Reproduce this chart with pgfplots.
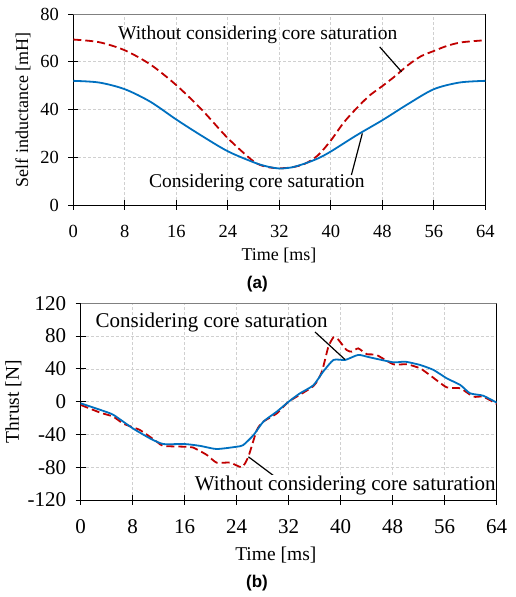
\documentclass[border=0pt]{standalone}
\usepackage{fontspec}
\setmainfont{Liberation Serif}
\newfontfamily\arialfont{Liberation Sans}
\usepackage{pgfplots}
\pgfplotsset{compat=1.18}
\definecolor{myred}{HTML}{C00000}
\definecolor{myblue}{HTML}{0070C0}
\definecolor{gridgray}{HTML}{D0D0D0}
\newcommand{\fs}[1]{\rmfamily\fontsize{#1}{#1}\selectfont}
\pgfplotsset{
  mystyle/.style={
    scale only axis,
    /pgf/number format/assume math mode=true,
    axis line style={black, line width=0.9pt},
    tick style={black, line width=0.9pt},
    tick align=center,
    major tick length=10pt,
    xtick pos=lower, ytick pos=left,
    xmin=0, xmax=64,
    xtick={0,8,...,64},
    grid=major,
    major grid style={gridgray, line width=0.6pt, dash pattern=on 3pt off 2pt},
    clip=true,
  },
  redline/.style={myred, line width=1.8pt, dash pattern=on 8pt off 4pt},
  blueline/.style={myblue, line width=1.8pt},
}
\begin{document}
\begin{tikzpicture}
\useasboundingbox (0pt,0pt) rectangle (516pt,597pt);
% ---------- (a) ----------
\begin{axis}[mystyle,
  at={(73.3pt,392pt)}, anchor=south west,
  width=412pt, height=191pt,
  ymin=0, ymax=80, ytick={0,20,...,80},
  tick label style={font=\fs{18.5}},
  xticklabel style={yshift=-12pt},
  yticklabel style={xshift=-6pt},
]
\addplot[redline, smooth] coordinates {
(0,69.3) (4,68.2) (8,64.8) (12,58.8) (16,50.2) (20,39.8) (24,28) (28,18.3) (30,16) (32,15.4)
(34,15.8) (36,17.3) (38,20.8) (40,27) (42,34.5) (44,40.5) (46,45.8) (48,49.8) (50,54)
(52,58.6) (54,62.3) (56,64.5) (58,66.6) (60,68) (62,68.6) (64,69)};
\addplot[blueline, smooth] coordinates {
(0,52) (4,51.3) (8,48.5) (12,43.2) (16,35.8) (20,28.9) (24,22.5) (28,17.9) (30,16.2) (32,15.3)
(34,15.8) (36,17.4) (38,19.5) (40,22.4) (44,29.2) (48,35.5) (52,42.3) (56,48.5) (60,51.3) (64,52)};
\draw[gray, line width=1pt] (rel axis cs:0,1) -- (rel axis cs:1,1);
\draw[black, line width=1.2pt] (axis cs:47.6,66.2) -- (axis cs:51,55.8);
\draw[black, line width=1.2pt] (axis cs:43.2,12.55) -- (axis cs:44.9,30);
\node[font=\fs{19.5}, inner sep=0pt] at (axis cs:28.65,71.1) {Without considering core saturation};
\node[font=\fs{19.5}, inner sep=0pt] at (axis cs:28.5,9.1) {Considering core saturation};
\end{axis}
\node[font=\fs{18}, rotate=90, inner sep=0pt] at (23pt,487pt) {Self inductance [mH]};
\node[font=\fs{18}, inner sep=0pt] at (279pt,342pt) {Time [ms]};
\node[font=\arialfont\bfseries\fontsize{17}{20}\selectfont, inner sep=0pt] at (257.3pt,313pt) {(a)};
% ---------- (b) ----------
\begin{axis}[mystyle,
  at={(80.7pt,97pt)}, anchor=south west,
  width=416pt, height=196.7pt,
  ymin=-120, ymax=120, ytick={-120,-80,...,120},
  tick label style={font=\fs{21}},
  xticklabel style={yshift=-11pt},
  yticklabel style={xshift=-6pt},
]
\addplot[redline, smooth, tension=0.35] coordinates {
(0,-4) (3,-13.4) (5,-18.3) (6.6,-27) (9.1,-34.6) (11.7,-48.8) (12.7,-54) (16,-55) (17.3,-56)
(19.4,-65) (20.9,-74.4) (23,-74.4) (24.8,-80) (25.8,-67) (27.1,-34.6) (28.1,-24.4) (30.2,-14.2)
(32,0) (35.8,19) (37.1,36.6) (38.1,67) (38.9,78.5) (39.6,76) (40.9,63) (41.7,61) (42.7,65)
(44,58) (45.5,57) (48.1,45.6) (50.2,45.6) (52.2,40.7) (53.7,32.5) (56.3,17.5) (58.4,16.3)
(60.4,6.1) (61.9,6.1) (64,-2.8)};
\addplot[blueline, smooth, tension=0.35] coordinates {
(0,-2) (3,-10) (5,-16) (8,-32.5) (10.7,-45) (12.7,-51.7) (16,-51.7) (18.4,-54) (20.9,-57.8)
(24,-55) (25,-53) (26.6,-40.7) (28.1,-24.4) (30.2,-12) (32,0) (33.7,10) (35.8,20) (37.3,36.6)
(38.9,50.9) (40.7,50.9) (42.7,57) (44.5,54) (48.1,48) (49.9,48.8) (52.2,44.8) (54.3,38.6)
(56.3,28.5) (58.4,20.3) (59.9,10.2) (61.9,7.3) (64,-1.2)};
\draw[gray, line width=1pt] (rel axis cs:0,1) -- (rel axis cs:1,1);
\draw[black, line width=1.2pt] (axis cs:36.05,85) -- (axis cs:40.66,51.4);
\draw[black, line width=1.2pt] (axis cs:25.8,-67.3) -- (axis cs:29.9,-91.6);
\node[font=\fs{21}, inner sep=0pt] at (axis cs:20.15,96) {Considering core saturation};
\node[font=\fs{21}, inner sep=0pt, fill=white] at (axis cs:40.7,-101.7) {Without considering core saturation};
\end{axis}
\node[font=\fs{19.5}, rotate=90, inner sep=0pt] at (13.3pt,195.3pt) {Thrust [N]};
\node[font=\fs{19.5}, inner sep=0pt] at (275.8pt,42pt) {Time [ms]};
\node[font=\arialfont\bfseries\fontsize{17}{20}\selectfont, inner sep=0pt] at (257pt,14.3pt) {(b)};
\end{tikzpicture}
\end{document}
